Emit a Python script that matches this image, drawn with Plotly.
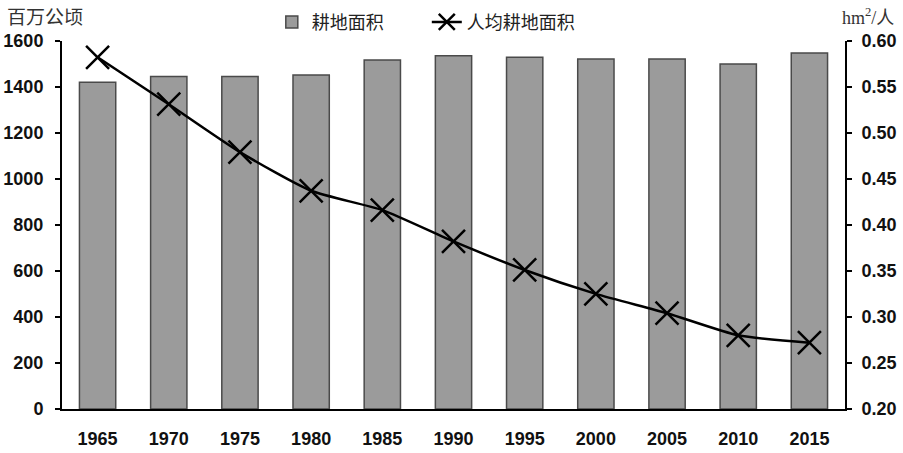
import plotly.graph_objects as go

years = ["1965", "1970", "1975", "1980", "1985", "1990", "1995", "2000", "2005", "2010", "2015"]
arable_land = [1419, 1444, 1444, 1451, 1516, 1535, 1528, 1521, 1521, 1499, 1547]
per_capita = [0.582, 0.531, 0.479, 0.437, 0.416, 0.382, 0.351, 0.325, 0.304, 0.280, 0.272]

left_ticks = [0, 200, 400, 600, 800, 1000, 1200, 1400, 1600]
right_ticks = [0.20, 0.25, 0.30, 0.35, 0.40, 0.45, 0.50, 0.55, 0.60]

tick_font = dict(family="Liberation Sans, Arial", size=18, color="#111111", weight="bold")
cjk = "Noto Sans CJK SC"

fig = go.Figure()
fig.add_trace(go.Bar(
    x=years, y=arable_land, name="耕地面积",
    marker=dict(color="#9b9b9b", line=dict(color="#4a4a4a", width=1.5)),
    yaxis="y",
))
fig.add_trace(go.Scatter(
    x=years, y=per_capita, name="人均耕地面积", mode="lines+markers",
    line=dict(color="#000000", width=2.5, shape="spline", smoothing=0.6),
    marker=dict(symbol="x-thin-open", size=23, line=dict(color="#000000", width=2.5)),
    yaxis="y2",
))

fig.update_layout(
    width=903, height=453,
    margin=dict(l=62, r=58, t=40, b=44),
    plot_bgcolor="white", paper_bgcolor="white",
    bargap=0.49,
    showlegend=True,
    legend=dict(orientation="h", xref="container", yref="container",
                x=0.301, xanchor="left", y=0.951, yanchor="middle",
                font=dict(family=cjk, size=18, color="#222222"),
                bgcolor="rgba(0,0,0,0)", itemwidth=30, tracegroupgap=0,
                entrywidth=110),
    xaxis=dict(type="category", range=[-0.5, 10.5], showline=True, linecolor="#000000",
               linewidth=2, ticks="", tickfont=tick_font, ticklabelstandoff=12,
               showgrid=False, zeroline=False, automargin=False),
    yaxis=dict(range=[0, 1600], tickvals=left_ticks, showline=True, linecolor="#000000",
               linewidth=2, ticks="outside", ticklen=5, tickwidth=2, tickcolor="#000000",
               tickfont=tick_font, showgrid=False, zeroline=False, ticklabelstandoff=8,
               automargin=False),
    yaxis2=dict(range=[0.2, 0.6], tickvals=right_ticks, tickformat=".2f", overlaying="y",
                side="right", showline=True, linecolor="#000000", linewidth=2,
                ticks="outside", ticklen=5, tickwidth=2, tickcolor="#000000",
                tickfont=tick_font, showgrid=False, zeroline=False, ticklabelstandoff=6,
                automargin=False),
    annotations=[
        dict(text="百万公顷", xref="paper", yref="paper", x=0, y=1, xshift=-57, yshift=25,
             xanchor="left", yanchor="middle", showarrow=False,
             font=dict(family=cjk, size=19, color="#333333")),
        dict(text="hm<sup>2</sup>/人", xref="paper", yref="paper", x=1, y=1, xshift=-5, yshift=24,
             xanchor="left", yanchor="middle", showarrow=False,
             font=dict(family="Liberation Serif, " + cjk, size=18, color="#333333")),
    ],
)

fig.write_html("out.html")
